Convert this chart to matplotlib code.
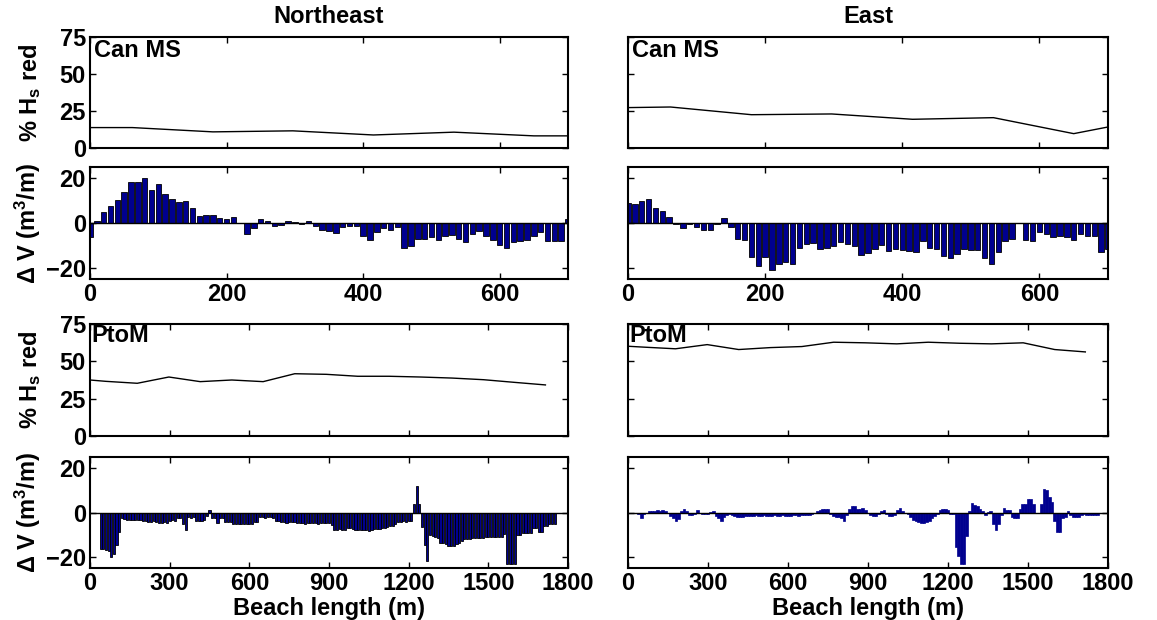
import numpy as np
import matplotlib
matplotlib.use("Agg")
from matplotlib import pyplot as plt

# --- data -----------------------------------------------------------------
# wave height reduction (%) along the beach, Can MS (0-700 m)
hs_x_canms = [0, 62, 180, 297, 415, 533, 650, 700]
hs_ne_canms = [13.8, 13.8, 10.9, 11.6, 8.8, 10.7, 8.2, 8.2]
hs_e_canms = [27.3, 27.7, 22.5, 23.0, 19.4, 20.5, 9.7, 14.2]

# wave height reduction (%) along the beach, PtoM (0-1800 m)
hs_x_ptom = [0, 60, 178, 297, 415, 534, 652, 771, 890, 1008, 1126, 1245,
             1363, 1482, 1600, 1715]
hs_ne_ptom = [37.5, 36.6, 35.3, 39.5, 36.4, 37.5, 36.4, 41.7, 41.3, 40.0,
              40.0, 39.5, 38.8, 37.7, 35.9, 34.2]
hs_e_ptom = [60.1, 59.5, 58.4, 61.2, 57.9, 59.2, 59.9, 62.8, 62.4, 61.7,
             62.8, 62.1, 61.7, 62.4, 57.9, 56.3]

# volume change (m3/m), Can MS, every 10 m from 0 to 700 m
dv_x_canms = list(range(0, 701, 10))
dv_ne_canms = [-6.2, 0.7, 4.7, 7.7, 10.4, 13.8, 18.1, 18.1, 20.0, 14.8,
               17.3, 12.9, 10.7, 9.2, 9.6, 6.7, 3.3, 3.6, 3.6, 2.1,
               1.6, 2.7, -0.2, -5.0, -2.2, 1.6, 1.0, -1.2, -0.9, 1.0,
               0.6, -0.3, 0.7, -1.2, -3.0, -3.7, -4.3, -1.9, -1.2, -1.2,
               -5.6, -7.4, -4.1, -2.4, -3.0, -1.9, -11.1, -10.1, -7.0, -7.1,
               -6.1, -7.4, -5.9, -5.2, -7.1, -8.3, -4.7, -3.4, -5.6, -7.4,
               -9.9, -11.1, -8.4, -8.1, -7.4, -5.6, -4.1, -8.0, -8.1, -8.1,
               2.0]
dv_e_canms = [8.9, 8.4, 9.8, 10.7, 6.8, 5.5, 2.7, -0.5, -2.2, -0.3,
              -1.9, -3.3, -3.3, -0.3, 2.1, -1.9, -7.1, -7.4, -15.3, -19.0,
              -15.3, -21.0, -18.5, -17.5, -18.2, -11.1, -9.3, -8.9, -11.6, -11.1,
              -10.1, -8.6, -9.2, -10.1, -14.2, -13.6, -11.6, -9.6, -12.3, -11.4,
              -12.1, -12.6, -13.0, -8.1, -11.1, -11.4, -14.8, -15.7, -13.8, -11.6,
              -12.1, -12.1, -15.7, -18.1, -12.9, -8.1, -7.1, 0.0, -7.4, -8.1,
              -4.0, -4.7, -6.4, -5.6, -6.2, -7.4, -4.7, -5.9, -5.9, -12.9,
              -11.6]

# volume change (m3/m), PtoM Northeast, every 10 m from 40 to 1750 m
dv_x_ne_ptom = list(range(40, 1751, 10))
dv_ne_ptom = [-16.3, -16.3, -17.0, -17.5, -20.0, -18.5, -14.5, -8.6, -2.7, -3.0,
              -3.4, -3.4, -3.2, -3.4, -3.6, -3.4, -3.9, -3.7, -4.1, -4.1,
              -4.0, -4.2, -4.7, -4.7, -4.5, -4.6, -3.7, -3.6, -3.8, -2.7,
              -2.7, -5.2, -8.1, -2.2, -2.4, -2.2, -3.7, -3.7, -3.9, -3.5,
              -1.5, 1.0, -2.5, -2.7, -4.7, -2.7, -2.7, -4.1, -4.1, -4.3,
              -5.3, -5.3, -5.1, -5.3, -5.3, -5.0, -5.3, -5.1, -4.1, -4.1,
              -2.2, -2.2, -2.4, -2.2, -2.2, -2.4, -3.7, -3.7, -4.4, -4.4,
              -4.6, -4.4, -4.4, -4.4, -4.9, -4.7, -4.9, -5.1, -4.9, -4.7,
              -4.9, -4.9, -5.0, -4.9, -4.7, -4.9, -4.9, -5.5, -7.9, -7.9,
              -7.6, -7.7, -7.9, -7.1, -7.1, -7.6, -8.1, -8.1, -8.1, -8.1,
              -8.1, -8.2, -8.1, -7.4, -7.4, -7.4, -7.2, -7.0, -6.5, -5.9,
              -5.9, -5.4, -4.1, -4.1, -4.0, -4.1, -3.7, -3.7, 3.7, 12.1,
              3.7, -6.7, -14.8, -22.0, -10.0, -10.5, -11.1, -11.5, -13.8, -13.8,
              -14.2, -15.0, -15.3, -15.3, -14.4, -13.6, -13.0, -11.9, -11.9, -11.9,
              -11.6, -11.6, -11.6, -11.6, -11.6, -11.1, -11.1, -11.1, -11.1, -11.1,
              -11.1, -11.1, -9.6, -23.0, -23.0, -23.0, -23.0, -10.0, -10.0, -9.2,
              -9.2, -9.2, -9.2, -7.1, -7.1, -8.6, -8.6, -5.9, -5.9, -5.3,
              -5.3, -5.3]

# volume change (m3/m), PtoM East, every 10 m from 0 to 1760 m
dv_x_e_ptom = list(range(0, 1761, 10))
dv_e_ptom = [-0.3, -0.2, -0.3, -0.3, -0.5, -2.7, -0.8, -0.3, 0.5, 0.8,
             0.8, 1.0, 0.9, 1.0, 0.6, 0.0, -1.5, -2.7, -3.7, -3.0,
             0.8, 1.6, 0.8, -1.0, -1.2, -0.8, 1.0, -0.4, -0.6, -0.6,
             -0.5, 0.4, 0.5, -1.5, -2.7, -3.7, -2.0, -1.0, -0.8, -1.0,
             -1.4, -2.0, -2.0, -2.0, -1.8, -1.5, -1.4, -1.5, -1.3, -1.4,
             -1.5, -1.3, -1.4, -1.5, -1.4, -1.3, -1.5, -1.4, -1.3, -1.4,
             -1.5, -1.4, -1.3, -1.2, -1.4, -1.3, -1.2, -1.3, -1.0, -0.6,
             -0.3, 0.5, 1.2, 1.8, 1.8, 1.5, -0.8, -1.8, -2.2, -2.2,
             -2.5, -3.7, -1.0, 1.5, 2.8, 2.8, 1.5, 1.5, 2.1, 1.0,
             0.0, -1.0, -1.6, -1.6, -0.8, 0.5, 1.0, -0.8, -1.5, -1.5,
             -1.2, 1.0, 2.1, 0.5, -0.3, -0.8, -2.0, -3.2, -4.0, -4.5,
             -4.6, -4.6, -4.4, -3.8, -2.5, -1.5, -0.5, 1.2, 1.8, 1.8,
             1.2, -0.6, -0.8, -15.7, -19.7, -23.0, -23.0, -10.8, 0.5, 4.3,
             3.5, 2.8, 1.5, 0.8, -1.0, 0.3, 0.5, -5.2, -8.1, -5.2,
             -1.0, 2.1, 1.3, 1.3, -2.0, -2.7, -2.7, 1.5, 4.0, 4.0,
             5.9, 5.9, 4.0, -0.3, 0.0, 4.0, 10.4, 10.0, 7.0, 4.7,
             -3.7, -8.6, -8.6, -2.7, -2.0, 0.7, -1.2, -1.9, -1.9, -1.9,
             -1.2, -0.5, -1.2, -1.2, -1.2, -1.2, -1.0]

# --- style ----------------------------------------------------------------
plt.rcParams["font.family"] = ["Liberation Sans", "DejaVu Sans"]
plt.rcParams["font.weight"] = "bold"
plt.rcParams["font.size"] = 17
plt.rcParams["axes.labelweight"] = "bold"
plt.rcParams["axes.titleweight"] = "bold"
plt.rcParams["mathtext.fontset"] = "custom"
plt.rcParams["mathtext.rm"] = "Liberation Sans:bold"
plt.rcParams["mathtext.it"] = "Liberation Sans:bold"
plt.rcParams["mathtext.bf"] = "Liberation Sans:bold"
plt.rcParams["mathtext.default"] = "bf"

BAR_COLOR = "#00008F"
W, H = 1157, 620


def make_axes(fig, x0, x1, y0, y1):
    # pixel box (from top-left) -> figure fraction
    return fig.add_axes([x0 / W, 1 - y1 / H, (x1 - x0) / W, (y1 - y0) / H])


def style_axes(ax):
    for s in ax.spines.values():
        s.set_linewidth(1.5)
    ax.tick_params(direction="in", top=True, right=True, length=4, width=1,
                   pad=3)


fig = plt.figure(figsize=(W / 100, H / 100), dpi=100)

cols = [(90, 568), (628, 1108)]
rows = [(37, 148), (167, 279), (324, 436), (457, 568)]

hs_top = [hs_ne_canms, hs_e_canms]
hs_bot = [hs_ne_ptom, hs_e_ptom]
dv_top = [dv_ne_canms, dv_e_canms]
titles = ["Northeast", "East"]

for c, (x0, x1) in enumerate(cols):
    # row 1: Hs reduction, Can MS
    ax = make_axes(fig, x0, x1, *rows[0])
    ax.plot(hs_x_canms, hs_top[c], color="k", lw=1.0)
    ax.set_xlim(0, 700)
    ax.set_ylim(0, 75)
    ax.set_xticks([0, 200, 400, 600])
    ax.set_yticks([0, 25, 50, 75])
    ax.set_xticklabels([])
    ax.set_title(titles[c], fontsize=17, pad=10)
    ax.text(0.008, 0.985, "Can MS", transform=ax.transAxes, ha="left",
            va="top", fontsize=17)
    style_axes(ax)
    if c == 0:
        ax.set_ylabel("% H$_s$ red")
        ax.yaxis.set_label_coords(-0.098, 0.5)
    else:
        ax.set_yticklabels([])

    # row 2: volume change, Can MS
    ax = make_axes(fig, x0, x1, *rows[1])
    ax.bar(dv_x_canms, dv_top[c], width=8, color=BAR_COLOR, edgecolor="k",
           linewidth=0.6)
    ax.axhline(0, color="k", lw=1.0)
    ax.set_xlim(0, 700)
    ax.set_ylim(-25, 25)
    ax.set_xticks([0, 200, 400, 600])
    ax.set_yticks([-20, 0, 20])
    style_axes(ax)
    if c == 0:
        ax.set_ylabel(r"$\Delta$ V (m$^3$/m)")
        ax.yaxis.set_label_coords(-0.098, 0.5)
    else:
        ax.set_yticklabels([])

    # row 3: Hs reduction, PtoM
    ax = make_axes(fig, x0, x1, *rows[2])
    ax.plot(hs_x_ptom, hs_bot[c], color="k", lw=1.0)
    ax.set_xlim(0, 1800)
    ax.set_ylim(0, 75)
    ax.set_xticks(range(0, 1801, 300))
    ax.set_yticks([0, 25, 50, 75])
    ax.set_xticklabels([])
    ax.text(0.002, 1.0, "PtoM", transform=ax.transAxes, ha="left",
            va="top", fontsize=17)
    style_axes(ax)
    if c == 0:
        ax.set_ylabel("% H$_s$ red")
        ax.yaxis.set_label_coords(-0.098, 0.5)
    else:
        ax.set_yticklabels([])

    # row 4: volume change, PtoM
    ax = make_axes(fig, x0, x1, *rows[3])
    if c == 0:
        ax.bar(dv_x_ne_ptom, dv_ne_ptom, width=8, color=BAR_COLOR,
               edgecolor="k", linewidth=0.6)
    else:
        ax.bar(dv_x_e_ptom, dv_e_ptom, width=10, color=BAR_COLOR,
               edgecolor=BAR_COLOR, linewidth=0.5)
    ax.axhline(0, color="k", lw=1.0)
    ax.set_xlim(0, 1800)
    ax.set_ylim(-25, 25)
    ax.set_xticks(range(0, 1801, 300))
    ax.set_yticks([-20, 0, 20])
    ax.set_xlabel("Beach length (m)", labelpad=1)
    style_axes(ax)
    if c == 0:
        ax.set_ylabel(r"$\Delta$ V (m$^3$/m)")
        ax.yaxis.set_label_coords(-0.098, 0.5)
    else:
        ax.set_yticklabels([])

fig.savefig("out.png", dpi=100)
